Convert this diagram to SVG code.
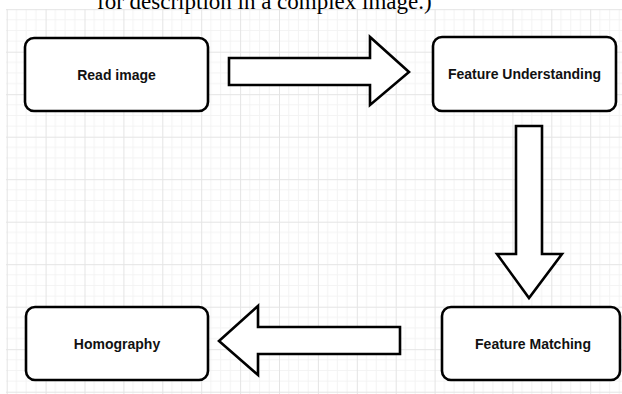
<svg xmlns="http://www.w3.org/2000/svg" width="622" height="394" viewBox="0 0 622 394">
  <defs>
    <pattern id="grid" patternUnits="userSpaceOnUse" x="6.7" y="9.2" width="38.9" height="42.5">
      <path d="M9.725 0V42.5M19.45 0V42.5M29.175 0V42.5M0 10.625H38.9M0 21.25H38.9M0 31.875H38.9" stroke="#f3f3f3" stroke-width="1" fill="none"/>
      <path d="M0.5 0V42.5M0 0.5H38.9" stroke="#e4e4e4" stroke-width="1" fill="none"/>
    </pattern>
    <style>
      .box { fill: #ffffff; stroke: #000000; stroke-width: 2.6; }
      .arrow { fill: #ffffff; stroke: #000000; stroke-width: 2.6; stroke-linejoin: miter; }
      .label { font-family: "Liberation Sans", Arial, sans-serif; font-weight: bold; font-size: 14px; fill: #111111; text-anchor: middle; }
      .caption { font-family: "Liberation Serif", "Times New Roman", serif; font-size: 23px; fill: #000000; }
    </style>
  </defs>
  <rect x="0" y="0" width="622" height="394" fill="#ffffff"/>
  <rect x="6" y="9" width="616" height="385" fill="url(#grid)"/>
  <text class="caption" x="97" y="9">for description in a complex image.)</text>

  <g id="connectors">
    <polygon class="arrow" points="229,58 370,58 370,37 409,72 370,105 370,85 229,85"/>
    <polygon class="arrow" points="516,126 542,126 542,254 562,254 529,298 497,254 516,254"/>
    <polygon class="arrow" points="400,327 258,327 258,306 219,341 258,375 258,354 400,354"/>
  </g>

  <g id="node-read-image">
    <rect class="box" x="25" y="38" width="183" height="73" rx="9" ry="9"/>
    <text class="label" x="116.5" y="80">Read image</text>
  </g>
  <g id="node-feature-understanding">
    <rect class="box" x="433" y="37" width="183" height="74" rx="9" ry="9"/>
    <text class="label" x="524.5" y="79">Feature Understanding</text>
  </g>
  <g id="node-feature-matching">
    <rect class="box" x="442" y="307" width="178" height="73" rx="9" ry="9"/>
    <text class="label" x="533" y="349">Feature Matching</text>
  </g>
  <g id="node-homography">
    <rect class="box" x="26" y="307" width="182" height="73" rx="9" ry="9"/>
    <text class="label" x="117" y="349">Homography</text>
  </g>
</svg>
